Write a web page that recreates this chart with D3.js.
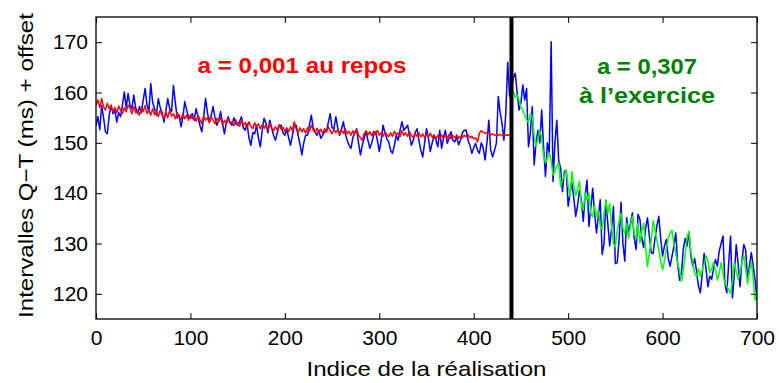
<!DOCTYPE html>
<html><head><meta charset="utf-8">
<script src="https://cdn.jsdelivr.net/npm/d3@7"></script>
<style>body{margin:0;background:#fff}svg{display:block}</style>
</head><body>
<svg id="chart" width="779" height="383"></svg>
<script>
// ---- data ----
const xTicks = [0,100,200,300,400,500,600,700];
const yTicks = [120,130,140,150,160,170];
const step = 2;
const blueStart = 0;
const blueValues = [
153.5,155.2,152.6,157.4,155.0,152.2,151.8,155.5,157.4,155.8,
156.5,154.1,156.0,155.2,157.5,160.1,157.0,159.8,157.5,156.8,
159.5,157.0,155.8,157.2,156.0,158.5,160.8,157.5,156.2,161.8,
158.0,156.8,155.5,158.8,157.0,156.0,154.1,156.5,158.8,156.8,
156.2,161.4,158.0,154.9,155.5,153.2,155.0,158.2,156.5,155.0,
154.9,155.8,154.5,156.8,155.2,153.5,152.2,155.0,158.8,156.0,
154.1,155.5,157.2,155.0,153.5,154.5,156.2,153.8,151.8,154.0,
155.2,154.0,153.5,155.0,153.8,153.5,154.2,155.2,153.0,152.5,
153.8,151.0,149.5,152.0,151.8,153.5,151.0,149.2,152.5,154.9,
153.9,152.0,154.5,153.0,151.5,150.5,152.0,153.5,153.5,152.0,
151.5,152.8,151.0,149.5,151.5,153.5,153.5,151.5,149.8,147.6,
150.0,151.5,151.5,153.5,155.5,153.0,152.2,151.5,152.5,150.9,
151.5,152.2,152.2,154.0,155.8,153.0,152.8,155.2,153.0,151.5,
152.8,154.2,151.8,150.5,149.5,148.9,151.0,152.0,152.8,150.0,
147.6,149.5,151.0,152.2,150.5,148.9,150.0,151.5,152.2,150.5,
148.3,150.5,153.5,152.0,150.8,150.2,148.5,147.9,149.5,151.5,
150.5,152.5,154.2,152.5,153.0,153.5,151.5,149.5,150.5,152.0,
152.8,150.5,148.5,147.2,150.0,152.8,151.0,148.3,150.0,151.5,
150.5,149.2,152.5,148.9,151.0,152.5,149.9,151.0,152.2,150.5,
150.2,151.2,149.6,150.5,152.0,152.5,152.5,150.5,149.5,147.9,
149.0,149.9,148.5,147.9,150.0,149.0,146.6,150.0,154.5,148.6,
147.2,148.5,149.9,159.2,156.0,153.8,150.5,156.0,166.0,159.2,
161.0,163.0,163.8,160.0,156.5,158.0,161.5,158.5,160.8,149.2,
152.0,157.2,145.6,150.0,152.5,150.0,156.5,149.0,143.3,150.0,
148.0,170.1,142.3,150.0,154.5,146.5,145.0,140.3,144.3,144.6,
137.4,140.0,142.0,139.0,135.4,137.5,140.6,138.7,134.4,139.5,
142.6,133.4,137.0,141.0,136.0,132.1,135.5,138.7,127.8,130.0,
138.6,134.0,129.5,133.0,137.4,126.0,126.2,131.0,138.2,130.0,
126.5,135.1,132.0,134.0,136.1,131.0,128.8,135.8,134.8,131.0,
129.2,133.0,135.1,131.5,128.2,128.0,131.0,133.5,135.4,131.0,
127.5,129.5,130.8,127.0,125.5,127.5,129.5,132.1,126.0,122.7,
124.2,129.0,131.0,129.5,132.3,127.5,125.5,127.0,124.5,121.5,
120.2,124.0,128.0,125.0,121.4,123.5,122.9,125.0,126.8,125.5,
128.5,130.0,131.5,122.0,120.2,126.0,131.5,119.2,124.0,129.8,
126.0,121.4,126.5,129.8,128.7,122.9,125.5,128.2,125.5,122.7,
118.9];
const redStart = 0;
const redValues = [
157.5,158.5,157.0,158.8,157.2,156.5,157.8,156.8,157.5,156.2,
157.0,156.0,157.3,156.5,155.8,157.0,156.2,157.5,156.9,155.8,
157.2,156.0,156.5,155.5,157.0,156.2,157.4,155.8,156.5,155.5,
156.8,155.6,156.3,155.2,156.5,155.5,154.8,156.2,155.0,156.4,
155.3,155.8,154.8,156.0,155.2,154.6,155.8,154.8,155.5,154.5,
155.6,154.8,155.2,154.3,155.5,154.6,153.8,155.3,154.5,155.0,
154.0,155.2,154.5,153.8,154.9,154.2,155.0,153.6,154.5,153.8,
154.8,153.9,154.2,153.4,154.6,153.8,153.3,154.5,153.6,154.0,
153.0,154.2,153.3,152.8,154.0,153.2,153.8,152.8,153.6,152.9,
153.5,152.6,153.8,153.0,152.4,153.2,152.5,153.6,152.7,153.1,
152.3,153.0,152.2,153.2,152.4,154.2,152.8,152.0,153.0,152.2,
152.8,151.9,153.0,152.3,153.5,152.6,152.0,152.9,152.1,152.7,
151.8,152.8,152.2,153.2,152.4,151.8,152.7,152.0,152.6,151.7,
152.5,151.9,152.8,151.8,152.3,151.5,152.4,151.7,152.6,151.5,
151.0,150.5,151.8,152.4,151.6,152.2,151.4,152.3,151.7,152.5,
151.5,152.0,151.3,152.2,151.6,151.2,152.0,151.3,152.3,151.6,
152.0,151.2,152.4,151.5,152.0,151.3,152.2,151.5,151.0,151.9,
151.3,152.0,151.2,151.8,151.0,151.7,151.2,151.9,151.1,151.6,
150.8,151.5,151.0,151.6,150.9,151.4,151.0,151.7,150.8,151.4,
151.0,151.6,150.9,151.3,151.0,151.5,151.2,151.6,151.0,151.3,
150.8,151.0,150.2,151.9,152.4,152.1,152.0,151.8,151.9,151.6,
151.8,151.5,151.6,151.5,151.7,151.4,151.6,151.5,151.6,151.5,151.5];
const greenStart = 442;
const greenValues = [
160.2,159.0,159.5,158.5,157.0,156.5,155.5,154.6,154.0,155.8,
155.2,151.5,149.3,150.8,152.4,151.0,147.5,146.0,147.0,148.0,
146.5,143.6,144.3,145.5,146.0,141.3,142.5,143.5,144.6,141.5,
139.3,144.3,141.4,139.5,140.8,142.4,137.5,136.6,140.0,138.7,
140.0,136.0,135.3,137.5,135.4,136.6,133.5,132.7,136.0,138.5,
136.0,137.9,133.4,130.0,129.3,132.5,134.5,136.0,133.0,132.0,
134.0,131.0,133.5,135.4,132.0,131.0,134.0,130.1,132.5,134.0,
129.0,125.4,128.0,130.7,134.5,132.5,130.7,128.8,126.5,124.8,
126.5,129.0,131.0,132.1,132.6,130.0,128.0,126.0,124.7,122.5,
124.5,128.0,131.5,132.3,128.5,126.2,124.0,123.4,125.0,123.5,
124.7,126.0,127.5,126.7,124.2,125.0,126.2,124.8,122.7,124.2,
126.2,124.0,122.0,121.5,120.8,120.1,122.5,126.2,124.5,122.9,
124.0,126.4,127.5,125.0,122.0,124.5,126.4,122.9,118.7,120.2];
const changeIndex = 440;
const xDomain = [0,700];
const yDomain = [115,175];
const xLabel = "Indice de la réalisation";
const yLabel = "Intervalles Q\u2212T (ms) + offset";
const restText = "a = 0,001 au repos";
const exText1 = "a = 0,307";
const exText2 = "à l\u2019exercice";

// ---- drawing ----
const W = 779, H = 383;
const m = {l:96, r:22, t:17, b:64};
const svg = d3.select("#chart");
const x = d3.scaleLinear().domain(xDomain).range([m.l, W - m.r]);
const y = d3.scaleLinear().domain(yDomain).range([H - m.b, m.t]);
const FONT = "'Liberation Sans', Arial, Helvetica, sans-serif";

const toPts = (vals, start) => vals.map((v, i) => [start + i * step, v]);
const line = d3.line().x(d => x(d[0])).y(d => y(d[1]));

svg.append("clipPath").attr("id","clip").append("rect")
  .attr("x", x(xDomain[0])).attr("y", y(yDomain[1]))
  .attr("width", x(xDomain[1]) - x(xDomain[0])).attr("height", y(yDomain[0]) - y(yDomain[1]));

const g = svg.append("g").attr("clip-path","url(#clip)");
g.append("path").attr("d", line(toPts(blueValues, blueStart)))
  .attr("fill","none").attr("stroke","#0000ff").attr("stroke-width",1.5).attr("stroke-linejoin","round");
g.append("path").attr("d", line(toPts(redValues, redStart)))
  .attr("fill","none").attr("stroke","#ff0000").attr("stroke-width",1.5).attr("stroke-linejoin","round");
g.append("path").attr("d", line(toPts(greenValues, greenStart)))
  .attr("fill","none").attr("stroke","#00ff00").attr("stroke-width",1.5).attr("stroke-linejoin","round");
g.append("line")
  .attr("x1", x(changeIndex)).attr("x2", x(changeIndex))
  .attr("y1", y(yDomain[0])).attr("y2", y(yDomain[1]))
  .attr("stroke","#000").attr("stroke-width",4);

// axes
const styleAxis = sel => {
  sel.select(".domain").remove();
  sel.selectAll(".tick line").attr("stroke","#000").attr("stroke-width",1);
  sel.selectAll(".tick text").attr("font-family", FONT).attr("font-size", 21).attr("fill","#000");
};
svg.append("g").attr("transform", `translate(0,${y(yDomain[0])})`)
  .call(d3.axisBottom(x).tickValues(xTicks).tickSizeInner(-6).tickSizeOuter(0).tickPadding(11))
  .call(styleAxis);
svg.append("g").attr("transform", `translate(0,${y(yDomain[1])})`)
  .call(d3.axisTop(x).tickValues(xTicks).tickSizeInner(-6).tickSizeOuter(0).tickFormat(""))
  .call(styleAxis);
svg.append("g").attr("transform", `translate(${x(xDomain[0])},0)`)
  .call(d3.axisLeft(y).tickValues(yTicks).tickSizeInner(-6).tickSizeOuter(0).tickPadding(8))
  .call(styleAxis);
svg.append("g").attr("transform", `translate(${x(xDomain[1])},0)`)
  .call(d3.axisRight(y).tickValues(yTicks).tickSizeInner(-6).tickSizeOuter(0).tickFormat(""))
  .call(styleAxis);

svg.append("rect")
  .attr("x", x(xDomain[0])).attr("y", y(yDomain[1]))
  .attr("width", x(xDomain[1]) - x(xDomain[0])).attr("height", y(yDomain[0]) - y(yDomain[1]))
  .attr("fill","none").attr("stroke","#000").attr("stroke-width",1.3);

// labels
svg.append("text").attr("x", (x(xDomain[0]) + x(xDomain[1])) / 2).attr("y", 376)
  .attr("text-anchor","middle").attr("font-family", FONT).attr("font-size", 21)
  .attr("textLength", 240).attr("lengthAdjust","spacingAndGlyphs")
  .text(xLabel);
svg.append("text").attr("transform", `translate(33,${(13+318)/2}) rotate(-90)`)
  .attr("text-anchor","middle").attr("font-family", FONT).attr("font-size", 21)
  .attr("textLength", 305).attr("lengthAdjust","spacingAndGlyphs")
  .text(yLabel);

// annotations
svg.append("text").attr("x", 302).attr("y", 73)
  .attr("text-anchor","middle").attr("font-family", FONT).attr("font-size", 22).attr("font-weight","bold")
  .attr("fill","#ff0000").attr("textLength", 209).attr("lengthAdjust","spacingAndGlyphs")
  .text(restText);
svg.append("text").attr("x", 647).attr("y", 74)
  .attr("text-anchor","middle").attr("font-family", FONT).attr("font-size", 22).attr("font-weight","bold")
  .attr("fill","#008000").attr("textLength", 100).attr("lengthAdjust","spacingAndGlyphs")
  .text(exText1);
svg.append("text").attr("x", 647).attr("y", 103)
  .attr("text-anchor","middle").attr("font-family", FONT).attr("font-size", 22).attr("font-weight","bold")
  .attr("fill","#008000").attr("textLength", 136).attr("lengthAdjust","spacingAndGlyphs")
  .text(exText2);
</script>
</body></html>
